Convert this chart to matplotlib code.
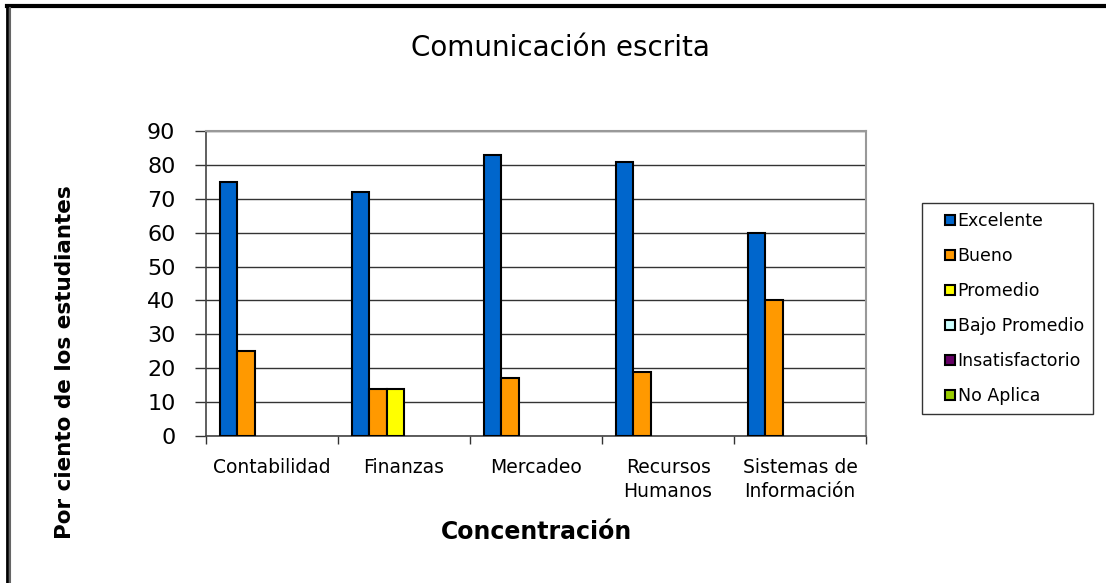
import numpy as np
import matplotlib.pyplot as plt
from matplotlib.lines import Line2D

plt.rcParams['font.family'] = ['DejaVu Sans']

# Data
categorias = ['Contabilidad', 'Finanzas', 'Mercadeo', 'Recursos\nHumanos', 'Sistemas de\nInformación']
series = ['Excelente', 'Bueno', 'Promedio', 'Bajo Promedio', 'Insatisfactorio', 'No Aplica']
excelente = [75, 72, 83, 81, 60]
bueno = [25, 14, 17, 19, 40]
promedio = [0, 14, 0, 0, 0]
bajo_promedio = [0, 0, 0, 0, 0]
insatisfactorio = [0, 0, 0, 0, 0]
no_aplica = [0, 0, 0, 0, 0]
valores = [excelente, bueno, promedio, bajo_promedio, insatisfactorio, no_aplica]
colores = ['#0066CC', '#FF9900', '#FFFF00', '#CCFFFF', '#660066', '#99CC00']

fig = plt.figure(figsize=(11.06, 5.83), dpi=100)
ax = fig.add_axes([0.1863, 0.2521, 0.5968, 0.5232])

x = np.arange(len(categorias))
ancho = 0.1326
for i, (nombre, vals, col) in enumerate(zip(series, valores, colores)):
    pos = x - 2.5 * ancho + i * ancho
    # zero bars are not visible in the original, so skip them
    v = np.array(vals, dtype=float)
    mask = v > 0
    ax.bar(pos[mask], v[mask], width=ancho, color=col, edgecolor='black',
           linewidth=1.5, zorder=3)

ax.set_xlim(-0.5, len(categorias) - 0.5)
ax.set_ylim(0, 90)
ax.set_yticks(range(0, 91, 10))
ax.yaxis.grid(True, color='#333333', linewidth=1, zorder=0)
ax.set_axisbelow(True)

ax.set_xticks(x)
ax.set_xticklabels(categorias, fontsize=13.5, linespacing=1.35)
ax.set_xticks(np.arange(-0.5, len(categorias)), minor=True)
ax.tick_params(axis='x', which='major', length=0, pad=16)
ax.tick_params(axis='x', which='minor', length=6, direction='out', width=1, color='#333333')
ax.tick_params(axis='y', length=8, width=1, direction='out', labelsize=16, pad=14, color='#333333')

for s in ['top', 'right']:
    ax.spines[s].set_color('#999999')
    ax.spines[s].set_linewidth(1.5)
for s in ['left', 'bottom']:
    ax.spines[s].set_color('#444444')
    ax.spines[s].set_linewidth(1.2)

fig.text(0.5063, 0.918, 'Comunicación escrita', fontsize=20, ha='center', va='center')
fig.text(0.4855, 0.087, 'Concentración', fontsize=17, fontweight='bold', ha='center', va='center')
fig.text(0.059, 0.379, 'Por ciento de los estudiantes', fontsize=15.5, fontweight='bold',
         rotation=90, ha='center', va='center')

handles = [Line2D([], [], marker='s', linestyle='none', markersize=7.5, markerfacecolor=c,
                  markeredgecolor='black', markeredgewidth=1.5) for c in colores]
leg = fig.legend(handles, series, loc='upper left', bbox_to_anchor=(0.8337, 0.652),
                 fontsize=12.5, frameon=True, fancybox=False, handlelength=2.1,
                 handletextpad=-0.6, labelspacing=0.97,
                 borderpad=0.55, borderaxespad=0)
leg.get_frame().set_edgecolor('black')
leg.get_frame().set_linewidth(1)

# outer frame, thick top/left edge as in the screenshot
fig.add_artist(Line2D([0.0063, 1.0], [0.9897, 0.9897], color='black', linewidth=3, transform=fig.transFigure))
fig.add_artist(Line2D([0.0063, 0.0063], [0.0, 0.9897], color='black', linewidth=2, transform=fig.transFigure))
fig.add_artist(Line2D([0.0090, 0.0090], [0.0, 0.986], color='#666666', linewidth=1.5, transform=fig.transFigure))

fig.savefig('out.png', dpi=100)
